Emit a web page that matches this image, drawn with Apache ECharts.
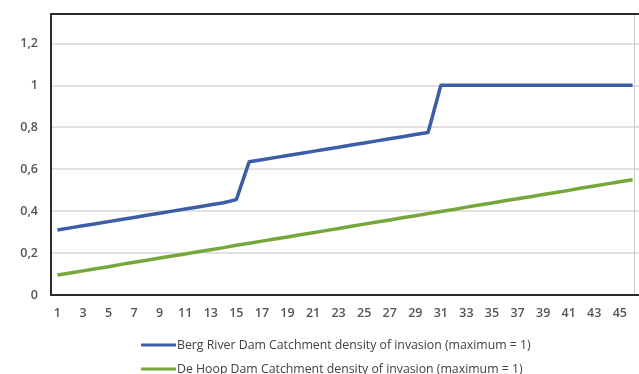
<!DOCTYPE html>
<html><head><meta charset="utf-8">
<script src="https://cdn.jsdelivr.net/npm/echarts@6/dist/echarts.min.js"></script>
<style>html,body{margin:0;padding:0;background:#fff}#c{width:639px;height:374px}</style>
</head><body><div id="c"></div>
<script>
const categories = ["1","2","3","4","5","6","7","8","9","10","11","12","13","14","15","16","17","18","19","20","21","22","23","24","25","26","27","28","29","30","31","32","33","34","35","36","37","38","39","40","41","42","43","44","45","46"];
const bergRiver = [0.31,0.32,0.33,0.34,0.35,0.36,0.37,0.38,0.39,0.40,0.41,0.42,0.43,0.44,0.455,
  0.635,0.645,0.655,0.665,0.675,0.685,0.695,0.705,0.715,0.725,0.735,0.745,0.755,0.765,0.775,
  1,1,1,1,1,1,1,1,1,1,1,1,1,1,1,1];
const deHoop = [0.095,0.105,0.115,0.125,0.135,0.146,0.156,0.166,0.176,0.186,0.196,0.206,0.216,0.226,0.237,0.247,0.257,0.267,0.277,0.287,0.297,0.307,0.317,0.328,0.338,0.348,0.358,0.368,0.378,0.388,0.398,0.408,0.419,0.429,0.439,0.449,0.459,0.469,0.479,0.489,0.499,0.510,0.520,0.530,0.540,0.550];
const seriesNames = ["Berg River Dam Catchment density of invasion (maximum = 1)","De Hoop Dam Catchment density of invasion (maximum = 1)"];
const yTicks = [0,0.2,0.4,0.6,0.8,1,1.2];

const font = "'Open Sans', 'Liberation Sans', sans-serif";
const legendBase = {
  orient:'vertical', left:136, itemWidth:35, itemHeight:3, icon:'rect',
  textStyle:{fontFamily:font, fontSize:12.3, fontWeight:500, color:'#404040', padding:[0,0,0,-4]}
};
const chart = echarts.init(document.getElementById('c'), null, {renderer:'canvas'});
chart.setOption({
  animation:false,
  backgroundColor:'#fff',
  grid:{left:51, top:14, right:-3, bottom:79, show:false},
  legend:[
    Object.assign({}, legendBase, {top:334, data:[seriesNames[0]]}),
    Object.assign({}, legendBase, {top:358, data:[seriesNames[1]]})
  ],
  xAxis:[{
    type:'category', data:categories, boundaryGap:true, z:5,
    axisLine:{onZero:false, lineStyle:{color:'#2b2b2b', width:2}},
    axisTick:{show:false},
    axisLabel:{interval:1, margin:12, fontFamily:font, fontSize:12.5, fontWeight:600, color:'#555'},
    splitLine:{show:false}
  },{
    type:'category', data:categories, boundaryGap:true, position:'top', z:5,
    axisLine:{show:true, onZero:false, lineStyle:{color:'#2b2b2b', width:2}},
    axisTick:{show:false}, axisLabel:{show:false}, splitLine:{show:false}
  }],
  yAxis:[{
    type:'value', min:0, max:1.34, interval:0.2,
    axisLine:{show:true, onZero:false, lineStyle:{color:'#2b2b2b', width:2}},
    axisTick:{show:false},
    axisLabel:{margin:13, fontFamily:font, fontSize:12.5, fontWeight:600, color:'#555',
      formatter:function(v){
        const r = Math.round(v*10)/10;
        if (yTicks.indexOf(r) < 0 || Math.abs(v-r) > 1e-6) return '';
        return String(r).replace('.',',');
      }},
    splitLine:{lineStyle:{color:['#dcd6d6','#dcd6d6','#dcd6d6','#dcd6d6','#dcd6d6','#dcd6d6','#dcd6d6','#2b2b2b'], width:1.5}}
  },{
    type:'value', min:0, max:1.34, position:'right', offset:-5,
    axisLine:{show:true, onZero:false, lineStyle:{color:'#c8c8c8', width:1}},
    axisTick:{show:false}, axisLabel:{show:false}, splitLine:{show:false}
  }],
  series:[
    {name:seriesNames[0], type:'line', data:bergRiver, symbol:'none',
     lineStyle:{color:'#3b5ea7', width:3.5}, itemStyle:{color:'#3b5ea7'}},
    {name:seriesNames[1], type:'line', data:deHoop, symbol:'none',
     lineStyle:{color:'#74a83b', width:3.5}, itemStyle:{color:'#74a83b'}}
  ]
});
</script></body></html>
